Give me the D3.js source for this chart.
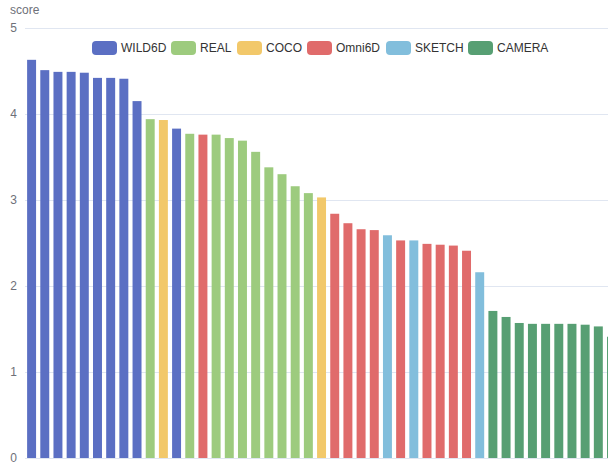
<!DOCTYPE html>
<html>
<head>
<meta charset="utf-8">
<script src="https://cdn.jsdelivr.net/npm/d3@7"></script>
<style>
  body { margin: 0; background: #fff; }
  svg { display: block; font-family: "Helvetica Neue", Helvetica, Arial, "Liberation Sans", sans-serif; }
</style>
</head>
<body>
<svg width="608" height="464"></svg>
<script>
// dataset of each bar, in order
var datasets = ["WILD6D", "WILD6D", "WILD6D", "WILD6D", "WILD6D", "WILD6D", "WILD6D", "WILD6D", "WILD6D",
  "REAL", "COCO", "WILD6D", "REAL", "Omni6D", "REAL", "REAL", "REAL", "REAL", "REAL", "REAL", "REAL", "REAL",
  "COCO", "Omni6D", "Omni6D", "Omni6D", "Omni6D", "SKETCH", "Omni6D", "SKETCH", "Omni6D", "Omni6D", "Omni6D",
  "Omni6D", "SKETCH", "CAMERA", "CAMERA", "CAMERA", "CAMERA", "CAMERA", "CAMERA", "CAMERA", "CAMERA", "CAMERA",
  "CAMERA"];
var scores = [4.63, 4.51, 4.49, 4.49, 4.48, 4.42, 4.42, 4.41, 4.15,
  3.94, 3.93, 3.83, 3.77, 3.76, 3.76, 3.72, 3.69, 3.56, 3.38, 3.30, 3.16, 3.08,
  3.03, 2.84, 2.73, 2.66, 2.65, 2.59, 2.53, 2.53, 2.49, 2.48, 2.47,
  2.41, 2.16, 1.71, 1.64, 1.57, 1.56, 1.56, 1.56, 1.56, 1.55, 1.53,
  1.41];
var legendNames = ["WILD6D", "REAL", "COCO", "Omni6D", "SKETCH", "CAMERA"];
var legendColors = ["#5b6fc3", "#9dcb7e", "#f2c86a", "#e06b6b", "#82bedc", "#579f73"];
var yTicks = [0, 1, 2, 3, 4, 5];

var svg = d3.select("svg");
var color = d3.scaleOrdinal().domain(legendNames).range(legendColors);

var x = d3.scaleBand()
  .domain(d3.range(scores.length))
  .range([25, 25 + scores.length * 13.18])
  .paddingInner(0.32)
  .paddingOuter(0.16);

var y = d3.scaleLinear().domain([0, 5]).range([458, 28]);

// grid
svg.append("g")
  .selectAll("line")
  .data(yTicks)
  .enter()
  .append("line")
  .attr("x1", 25)
  .attr("x2", 608)
  .attr("y1", d => Math.round(y(d)) + 0.5)
  .attr("y2", d => Math.round(y(d)) + 0.5)
  .attr("stroke", "#e0e6f1");

// y labels
svg.append("g")
  .selectAll("text")
  .data(yTicks)
  .enter()
  .append("text")
  .attr("x", 17)
  .attr("y", d => y(d))
  .attr("dy", "0.35em")
  .attr("text-anchor", "end")
  .attr("font-size", 12)
  .attr("fill", "#6e7079")
  .text(d => d);

svg.append("text")
  .attr("x", 10)
  .attr("y", 14)
  .attr("font-size", 12)
  .attr("fill", "#6e7079")
  .text("score");

// bars
svg.append("g")
  .selectAll("rect")
  .data(scores)
  .enter()
  .append("rect")
  .attr("x", (d, i) => x(i))
  .attr("width", x.bandwidth())
  .attr("y", d => y(d))
  .attr("height", d => y(0) - y(d))
  .attr("fill", (d, i) => color(datasets[i]));

// legend
var legendX = [92, 171, 237, 307, 386, 468];
var legend = svg.append("g")
  .selectAll("g")
  .data(legendNames)
  .enter()
  .append("g")
  .attr("transform", (d, i) => "translate(" + legendX[i] + ",48)");

legend.append("rect")
  .attr("x", 0)
  .attr("y", -7)
  .attr("width", 25)
  .attr("height", 14)
  .attr("rx", 4)
  .attr("fill", d => color(d));

legend.append("text")
  .attr("x", 29)
  .attr("dy", "0.35em")
  .attr("font-size", 12)
  .attr("fill", "#333")
  .text(d => d);
</script>
</body>
</html>
